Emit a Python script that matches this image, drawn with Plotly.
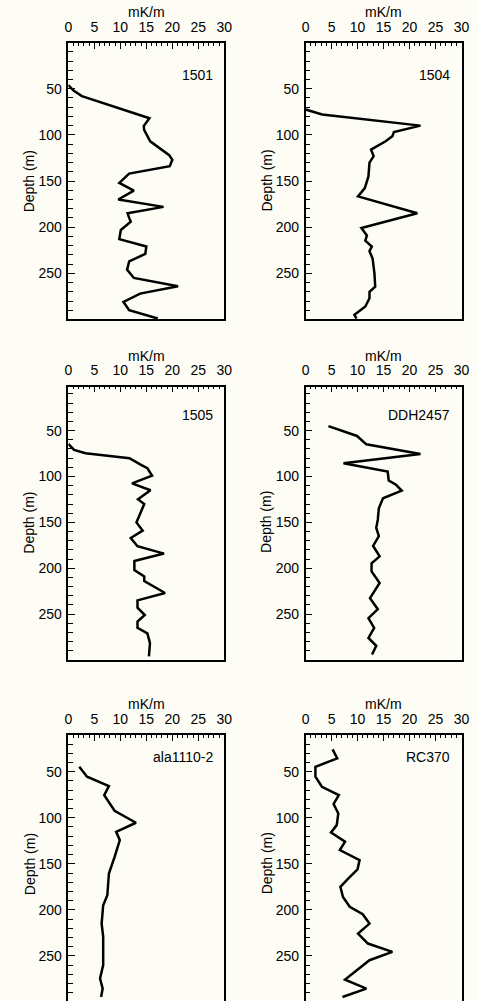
import plotly.graph_objects as go
from plotly.subplots import make_subplots

# ---- data (gradient mK/m vs depth m) ----
names = ["1501", "1504", "1505", "DDH2457", "ala1110-2", "RC370"]

grad_1501 = [0.0, 1.0, 2.6, 15.6, 14.5, 14.6, 15.75, 17.9, 19.4, 20.0, 19.5, 11.7, 9.8, 12.6, 9.6, 18.3, 11.4, 11.7, 12.0, 10.1, 9.8, 15.0, 14.8, 11.7, 11.3, 12.6, 21.1, 13.8, 10.6, 11.7, 17.2]
depth_1501 = [46, 52, 58, 82, 90.4, 94.8, 107, 116, 122, 127, 134, 142, 152, 160.5, 170, 178, 185, 190, 194, 203, 213, 221, 229, 237, 246, 255, 264, 272, 281, 290, 299]

grad_1504 = [0.0, 3.2, 22.1, 17.0, 16.7, 15.4, 12.6, 13.1, 12.3, 12.1, 11.4, 10.1, 21.5, 10.75, 11.8, 11.5, 12.75, 12.3, 12.9, 13.25, 13.4, 12.3, 12.3, 11.5, 9.4, 9.8]
depth_1504 = [72.5, 78, 90, 97, 101.5, 107, 116, 123, 130, 145, 157.6, 166.7, 185, 201, 209, 214.5, 221, 226, 234, 250, 264.5, 270, 277, 286, 295, 299]

grad_1505 = [0.0, 1.1, 3.3, 11.75, 13.9, 15.2, 16.1, 12.25, 15.8, 13.4, 14.6, 13.1, 14.3, 12.0, 13.3, 18.4, 12.7, 12.7, 14.6, 14.6, 18.6, 13.3, 13.3, 14.7, 13.3, 13.3, 15.2, 15.7, 15.5]
depth_1505 = [64.5, 71, 74.7, 80, 87, 91, 99, 107.4, 115, 124.8, 130, 150, 159, 167, 176, 184, 192, 202, 209, 214, 227, 235, 243, 251, 258, 265, 271, 281.6, 296]

grad_ddh2457 = [4.4, 9.9, 11.7, 22.1, 7.3, 15.8, 16.0, 17.4, 18.5, 14.9, 14.1, 13.9, 13.6, 14.1, 13.0, 14.25, 12.7, 12.7, 14.25, 12.4, 13.9, 12.1, 13.2, 12.1, 13.6, 12.8]
depth_ddh2457 = [45, 55.8, 64.9, 75.4, 85.6, 94.6, 104.4, 109, 115.3, 123.7, 134.6, 147, 156, 165, 175.6, 187, 194.5, 203.5, 216, 232.6, 244.6, 254.4, 265, 276, 284.5, 294]

grad_ala1110 = [2.1, 3.6, 7.8, 6.9, 8.9, 13.0, 9.2, 9.9, 8.9, 7.8, 7.5, 6.7, 6.4, 6.7, 6.7, 6.1, 6.6, 6.3]
depth_ala1110 = [44.6, 55.4, 65.6, 75.4, 92.4, 105.4, 115.2, 124.3, 142.4, 160.5, 184, 195, 215, 229, 260, 274.6, 285.5, 294.6]

grad_rc370 = [5.2, 6.1, 1.9, 1.9, 3.15, 6.4, 5.4, 6.3, 6.0, 4.9, 7.6, 6.6, 10.4, 10.0, 8.2, 6.7, 7.2, 8.5, 11.0, 12.3, 10.1, 12.0, 16.7, 12.3, 7.6, 11.7, 7.1]
depth_rc370 = [25.7, 35.5, 44.6, 55.4, 66.3, 75.4, 85, 95.3, 108, 116, 126, 135, 146, 156, 166, 175, 186, 196.7, 204.7, 214.9, 225.7, 236.6, 245.7, 254.7, 275.7, 285.5, 294.6]

x_ticks = [0, 5, 10, 15, 20, 25, 30]
y_ticks = [50, 100, 150, 200, 250]

series = [
    (grad_1501, depth_1501), (grad_1504, depth_1504),
    (grad_1505, depth_1505), (grad_ddh2457, depth_ddh2457),
    (grad_ala1110, depth_ala1110), (grad_rc370, depth_rc370),
]

# ---- layout geometry ----
W, H = 478, 1001
BG = "#fdfdf5"
FONT = "Liberation Sans, Arial, Helvetica, sans-serif"
FS = 14
col_dom = [[66 / W, 226 / W], [309.3 / W, 469.3 / W]]
row_dom = [[1 - 319 / H, 1 - 43.3 / H], [1 - 660 / H, 1 - 386.7 / H], [0.0, 1 - 735 / H]]
row_range = [[299.5, 0.8], [300, 2.1], [299, 10.1]]
label_y = [35, 33, 34.5]

fig = make_subplots(rows=3, cols=2)

for i, (gx, gy) in enumerate(series):
    r, c = i // 2, i % 2
    fig.add_trace(go.Scatter(x=gx, y=gy, mode="lines",
                             line=dict(color="black", width=2.5),
                             showlegend=False, hoverinfo="skip"),
                  row=r + 1, col=c + 1)
    k = "" if i == 0 else str(i + 1)
    fig.layout["xaxis" + k].update(
        domain=col_dom[c], range=[0, 30], side="top",
        tickvals=x_ticks, ticks="inside", ticklen=6, tickwidth=1, tickcolor="black",
        minor=dict(dtick=1, tick0=0, ticks="inside", ticklen=3, tickwidth=1, tickcolor="black"),
        showline=True, linecolor="black", linewidth=1.5, mirror=(r < 2),
        showgrid=False, zeroline=False, ticklabelstandoff=4,
        tickfont=dict(family=FONT, size=FS, color="black"),
    )
    fig.layout["yaxis" + k].update(
        domain=row_dom[r], range=row_range[r],
        tickvals=y_ticks, ticks="inside", ticklen=7, tickwidth=1, tickcolor="black",
        minor=dict(dtick=10, tick0=0, ticks="inside", ticklen=5, tickwidth=1, tickcolor="black"),
        showline=True, linecolor="black", linewidth=1.5, mirror=True,
        showgrid=False, zeroline=False, ticklabelstandoff=2,
        tickfont=dict(family=FONT, size=FS, color="black"),
    )
    xr, yr = "x" + k, "y" + k
    fig.add_annotation(text=names[i], x=28.2, y=label_y[r], xref=xr, yref=yr,
                       xanchor="right", yanchor="middle", showarrow=False,
                       font=dict(family=FONT, size=FS, color="black"))
    fig.add_annotation(text="mK/m", x=0.5, y=1, xref=xr + " domain", yref=yr + " domain",
                       xanchor="center", yanchor="middle", yshift=31, showarrow=False,
                       font=dict(family=FONT, size=FS, color="black"))
    fig.add_annotation(text="Depth (m)", x=0, y=150, xref=xr + " domain", yref=yr,
                       xanchor="center", yanchor="middle", xshift=-39, textangle=-90,
                       showarrow=False, font=dict(family=FONT, size=FS, color="black"))

fig.update_layout(width=W, height=H, margin=dict(l=0, r=0, t=0, b=0),
                  paper_bgcolor=BG, plot_bgcolor=BG,
                  font=dict(family=FONT, size=FS, color="black"))

fig.write_html("out.html", config={"displayModeBar": False},
               post_script="document.body.style.margin='0';document.body.style.overflow='hidden';")
